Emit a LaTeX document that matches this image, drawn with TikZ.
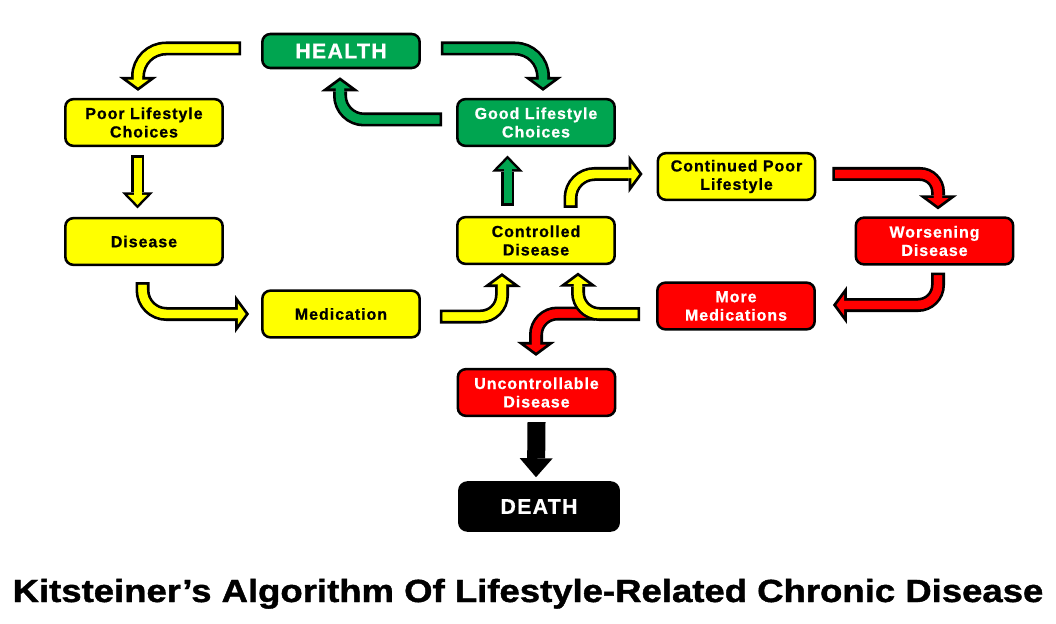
\documentclass[tikz,border=0pt]{standalone}
\usepackage{fontspec}
\usepackage{graphicx}
\setmainfont{Liberation Sans}
\newfontfamily\boxfont{Liberation Sans}[LetterSpace=6, BoldFeatures={FakeBold=0.7}]
\newfontfamily\titlefont{Liberation Sans}[BoldFeatures={FakeBold=1.2}]
\usepackage{tikz}
\usetikzlibrary{arrows.meta, calc}

\definecolor{ylw}{RGB}{255,255,0}
\definecolor{grn}{RGB}{0,165,80}
\definecolor{rd}{RGB}{255,0,0}

\tikzset{
  box/.style={draw=black, line width=1.9pt, rounded corners=6pt,
    minimum width=118pt, minimum height=35pt, align=center, inner sep=2pt,
    font=\boxfont\bfseries\fontsize{12}{13.8}\selectfont},
  ybox/.style={box, fill=ylw},
  gbox/.style={box, fill=grn, text=white},
  rbox/.style={box, fill=rd, text=white},
  endbox/.style={box, font=\boxfont\bfseries\fontsize{16}{19}\selectfont},
  % curved block arrows: black outline, then coloured inside
  arrowout/.style={line width=10.5pt, draw=black,
    -{Triangle[length=10.5pt,width=28.5pt,line width=0pt]}},
  arrowin/.style={line width=6.3pt, draw=#1, shorten <=2.1pt, shorten >=2.61pt,
    -{Triangle[length=5.79pt,width=15.7pt,line width=0pt]}},
  arrowfill/.style={line width=6.3pt, draw=#1, shorten <=2.1pt, shorten >=6.2pt},
  % straight block arrows
  stemout/.style={line width=9.75pt, draw=black,
    -{Triangle[length=12pt,width=23.25pt,line width=0pt]}},
  stemin/.style={line width=6pt, draw=#1, shorten <=1.9pt, shorten >=2.69pt,
    -{Triangle[length=7.43pt,width=14.4pt,line width=0pt]}},
  stemfill/.style={line width=6pt, draw=#1, shorten <=1.9pt, shorten >=7pt},
  deatharrow/.style={line width=13.5pt, draw=black,
    -{Triangle[length=14.25pt,width=24.75pt,line width=0pt]}}
}

\newcommand\fatarrow[3][18pt]{%
  \draw[arrowout, rounded corners=#1] #3;
  \draw[arrowin=#2, rounded corners=#1] #3;
  \draw[arrowfill=#2, rounded corners=#1] #3;
}
\newcommand\stemarrow[2]{%
  \draw[stemout] #2;
  \draw[stemin=#1] #2;
  \draw[stemfill=#1] #2;
}

\begin{document}
\begin{tikzpicture}[x=0.75pt, y=-0.75pt]
    \useasboundingbox (0,0) rectangle (1056,624);

    % Boxes
    \node[gbox, endbox, minimum height=25.5pt] (health) at (341,51) {HEALTH};
    \node[ybox] (poor) at (144,122.5) {Poor Lifestyle\\Choices};
    \node[gbox] (good) at (536,122.5) {Good Lifestyle\\Choices};
    \node[ybox] (cont) at (736.5,176.5) {Continued Poor\\Lifestyle};
    \node[ybox] (disease) at (144,241.5) {Disease};
    \node[ybox] (ctrl) at (536,240.5) {Controlled\\Disease};
    \node[rbox] (worse) at (934.5,241) {Worsening\\Disease};
    \node[ybox] (med) at (341,314) {Medication};
    \node[rbox] (more) at (736,306) {More\\Medications};
    \node[rbox] (unctrl) at (536.5,392.5) {Uncontrollable\\Disease};
    \node[endbox, fill=black, text=white, minimum width=119.5pt, minimum height=36pt] (death) at (539,506.5) {DEATH};

    % Upper loop
    \fatarrow[21pt]{ylw}{($(health.west)+(-20,-2.5)$) -| ($(poor.north)+(-6,-7)$)}
    \fatarrow[21pt]{grn}{($(health.east)+(20,-2.5)$) -| ($(good.north)+(7,-7)$)}
    \fatarrow{grn}{($(good.west)+(-14,-3)$) -| ($(health.south)+(-1,8)$)}
    \stemarrow{ylw}{($(poor.south)+(-6.5,8)$) -- ($(disease.north)+(-6.5,-8.5)$)}
    \stemarrow{grn}{($(ctrl.north)+(-28.5,-10)$) -- ($(good.south)+(-28.5,8.5)$)}

    % Medication path
    \fatarrow{ylw}{($(disease.south)+(-1.5,16)$) |- ($(med.west)+(-12,0)$)}
    \fatarrow[16pt]{ylw}{($(med.east)+(19,2.5)$) -| ($(ctrl.south)+(-34,8)$)}

    % Right hand loop
    \fatarrow{ylw}{($(ctrl.north)+(34.5,-8)$) |- ($(cont.west)+(-14,-2.5)$)}
    \fatarrow[13.5pt]{rd}{($(cont.east)+(16,-2.5)$) -| ($(worse.north)+(3.5,-7)$)}
    \fatarrow[15pt]{rd}{($(worse.south)+(3.5,7)$) |- ($(more.east)+(17,-1)$)}
    \fatarrow[16pt]{rd}{($(more.west)+(-61,7.5)$) -| ($(unctrl.north)+(-0.5,-12)$)}
    \fatarrow[16pt]{ylw}{($(more.west)+(-16,8)$) -| ($(ctrl.south)+(42,7.5)$)}

    % Final step
    \draw[deatharrow] ($(unctrl.south)+(0,5)$) -- ($(death.north)+(-3,-4)$);

    % Title
    \node[anchor=base] (title) at (528,602)
      {\resizebox{773pt}{\height}{\titlefont\bfseries\fontsize{24}{28}\selectfont Kitsteiner’s Algorithm Of Lifestyle-Related Chronic Disease}};
\end{tikzpicture}
\end{document}
